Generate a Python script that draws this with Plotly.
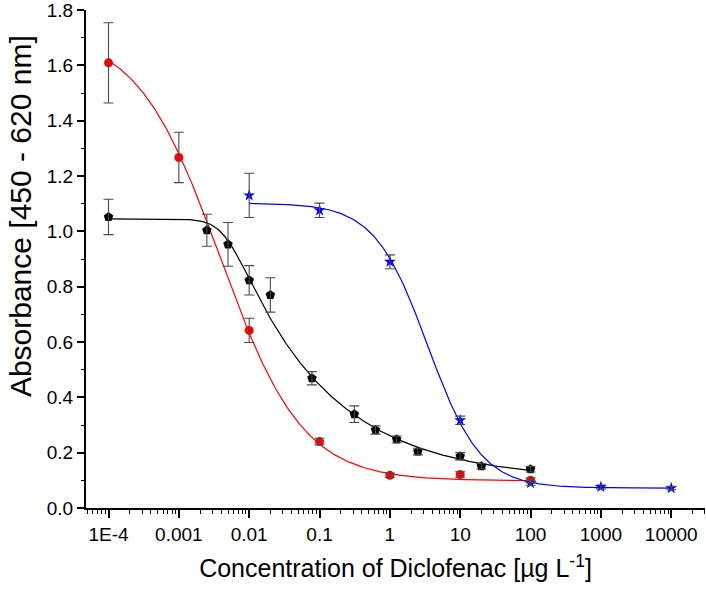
import numpy as np
import plotly.graph_objects as go

# ---- data ----
red_x = [1e-4, 1e-3, 1e-2, 1e-1, 1, 10, 100]
red_y = [1.609, 1.267, 0.642, 0.240, 0.118, 0.121, 0.100]
red_err = [0.145, 0.091, 0.044, 0.012, 0.008, 0.010, 0.009]

black_x = [1e-4, 0.0025, 0.005, 0.01, 0.02, 0.078, 0.3125, 0.625, 1.25, 2.5, 10, 20, 100]
black_y = [1.052, 1.004, 0.953, 0.823, 0.770, 0.469, 0.339, 0.282, 0.248, 0.204, 0.187, 0.151, 0.140]
black_err = [0.064, 0.058, 0.079, 0.053, 0.062, 0.024, 0.030, 0.015, 0.012, 0.012, 0.013, 0.010, 0.010]

blue_x = [0.01, 0.1, 1, 10, 100, 1000, 10000]
blue_y = [1.130, 1.076, 0.890, 0.317, 0.090, 0.076, 0.072]
blue_err = [0.080, 0.026, 0.025, 0.015, 0.008, 0.007, 0.006]

# logistic fit parameters (A1 top, A2 bottom, x0, p, s)
red_fit = dict(A1=1.72, A2=0.098, x0=0.00382, p=0.74, s=1.0, lo=1e-4, hi=100)
black_fit = dict(A1=1.045, A2=0.100, x0=0.0047, p=3.0, s=0.11, lo=1e-4, hi=100)
blue_fit = dict(A1=1.102, A2=0.072, x0=3.45, p=1.15, s=1.0, lo=0.01, hi=10000)

tick_vals = [1e-4, 1e-3, 1e-2, 1e-1, 1, 10, 100, 1000, 10000]
tick_text = ["1E-4", "0.001", "0.01", "0.1", "1", "10", "100", "1000", "10000"]

x_title = "Concentration of Diclofenac [µg L<sup>-1</sup>]"
y_title = "Absorbance [450 - 620 nm]"


def fit_curve(f):
    xs = np.logspace(np.log10(f["lo"]), np.log10(f["hi"]), 400)
    ys = f["A2"] + (f["A1"] - f["A2"]) / (1 + (xs / f["x0"]) ** f["p"]) ** f["s"]
    return xs, ys


FONT = "Liberation Sans, Arial, sans-serif"
fig = go.Figure()

for f, col in [(red_fit, "red"), (black_fit, "black"), (blue_fit, "blue")]:
    xs, ys = fit_curve(f)
    fig.add_trace(go.Scatter(x=xs, y=ys, mode="lines",
                             line=dict(color=col, width=1.2),
                             hoverinfo="skip", showlegend=False))

series = [
    (red_x, red_y, red_err, "red", "circle", 9),
    (black_x, black_y, black_err, "black", "pentagon", 10),
    (blue_x, blue_y, blue_err, "blue", "star", 9),
]
for x, y, e, col, sym, sz in series:
    fig.add_trace(go.Scatter(x=x, y=y, mode="markers",
                             marker=dict(color=col, symbol=sym, size=sz, line=dict(width=0)),
                             showlegend=False))
for x, y, e, col, sym, sz in series:
    fig.add_trace(go.Scatter(x=x, y=y, mode="markers",
                             marker=dict(size=1, opacity=0),
                             error_y=dict(type="data", array=e, visible=True,
                                          color="#4a4a4a", thickness=1.1, width=5),
                             hoverinfo="skip", showlegend=False))

fig.update_layout(
    width=706, height=589,
    margin=dict(l=86, r=1, t=10, b=81, autoexpand=False),
    paper_bgcolor="white", plot_bgcolor="white",
    font=dict(family=FONT, size=19, color="black"),
    showlegend=False,
)
fig.update_xaxes(
    type="log", range=[-4.32, 4.48], automargin=False,
    tickvals=tick_vals, ticktext=tick_text, ticklabeloverflow="allow",
    ticks="outside", ticklen=8, tickwidth=1.5, tickcolor="black",
    showline=True, linecolor="black", linewidth=2,
    showgrid=False, zeroline=False,
    tickfont=dict(size=19),
    minor=dict(ticks="outside", ticklen=4, tickwidth=1.2, tickcolor="black",
               dtick="D1", showgrid=False),
    title=dict(text=x_title, font=dict(size=25), standoff=16),
)
fig.update_yaxes(
    range=[0, 1.8], dtick=0.2, tickformat=".1f", automargin=False,
    ticklabeloverflow="allow",
    ticks="outside", ticklen=7, tickwidth=1.5, tickcolor="black",
    showline=True, linecolor="black", linewidth=2,
    showgrid=False, zeroline=False,
    tickfont=dict(size=19),
    minor=dict(ticks="outside", ticklen=3.5, tickwidth=1.2, tickcolor="black",
               dtick=0.1, showgrid=False),
)
# y-axis title as a rotated annotation (sits higher than the plot centre in the reference)
fig.add_annotation(text=y_title, textangle=-90, showarrow=False,
                   xref="paper", yref="y", x=0, y=1.055,
                   xanchor="center", yanchor="middle", xshift=-66,
                   font=dict(size=30, family=FONT))

fig.write_html("out.html", config={"displayModeBar": False},
               post_script="document.body.style.margin='0px';")
